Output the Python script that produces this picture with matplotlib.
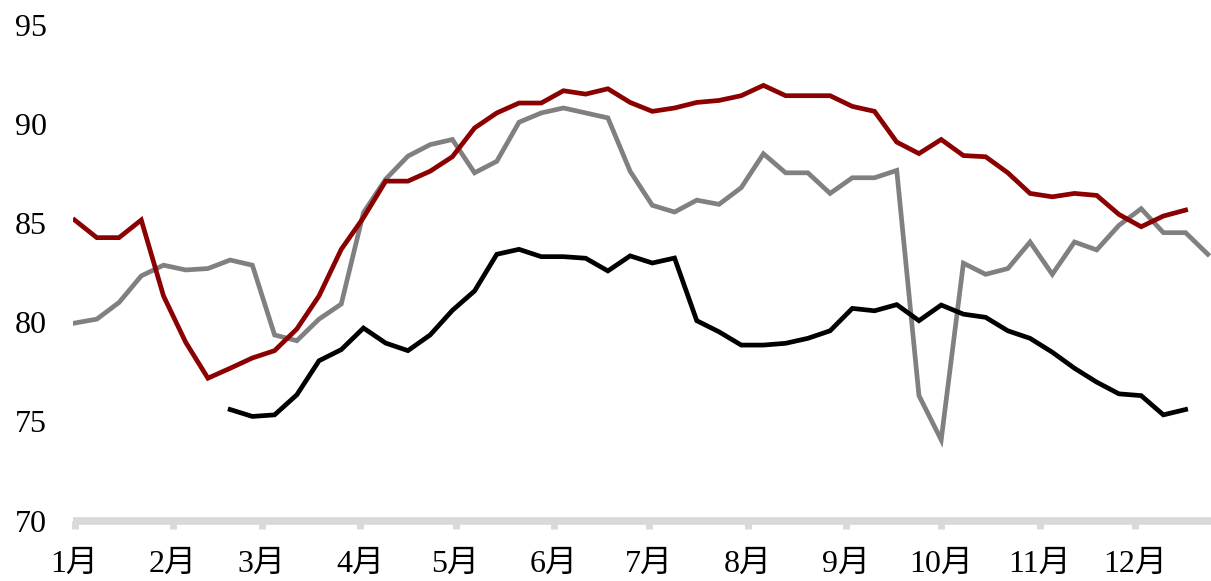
import numpy as np
import pandas as pd
import matplotlib
matplotlib.use("Agg")
import matplotlib.pyplot as plt

plt.rcParams['font.family'] = ['Liberation Serif', 'Noto Sans CJK SC', 'DejaVu Sans']

# 周度数据（每7天一个点）
semanas = pd.date_range('2021-01-01', periods=52, freq='7D')
meses = pd.date_range('2021-01-01', periods=12, freq='MS')
etiquetas_mes = ['1月', '2月', '3月', '4月', '5月', '6月',
                 '7月', '8月', '9月', '10月', '11月', '12月']

serie_gris = [79.96, 80.16, 81.00, 82.34, 82.88, 82.64, 82.71, 83.14, 82.88, 79.36,
              79.07, 80.16, 80.92, 85.53, 87.22, 88.38, 88.96, 89.22, 87.54, 88.12,
              90.09, 90.56, 90.81, 90.56, 90.31, 87.62, 85.90, 85.56, 86.16, 85.95,
              86.79, 88.50, 87.54, 87.54, 86.50, 87.29, 87.29, 87.66, 76.30, 74.07,
              82.98, 82.42, 82.71, 84.05, 82.42, 84.05, 83.65, 84.89, 85.73, 84.52,
              84.52, 83.43]

serie_negra = [None, None, None, None, None, None, None, 75.60, 75.25, 75.33,
               76.34, 78.06, 78.62, 79.71, 78.95, 78.57, 79.36, 80.60, 81.58, 83.43,
               83.68, 83.31, 83.31, 83.23, 82.59, 83.35, 82.99, 83.24, 80.08, 79.52,
               78.85, 78.85, 78.94, 79.19, 79.57, 80.70, 80.58, 80.89, 80.08, 80.87,
               80.41, 80.25, 79.57, 79.19, 78.49, 77.68, 76.98, 76.39, 76.30, 75.33,
               75.60, None]

serie_roja = [85.16, 84.27, 84.27, 85.16, 81.33, 78.99, 77.18, 77.68, 78.20, 78.57,
              79.66, 81.33, 83.68, 85.28, 87.12, 87.12, 87.62, 88.35, 89.80, 90.56,
              91.06, 91.06, 91.68, 91.51, 91.78, 91.09, 90.64, 90.81, 91.09, 91.19,
              91.43, 91.95, 91.43, 91.43, 91.43, 90.89, 90.64, 89.09, 88.51, 89.22,
              88.41, 88.35, 87.54, 86.50, 86.33, 86.50, 86.40, 85.44, 84.82, 85.36,
              85.66, None]

dias = (semanas - semanas[0]).days.values
dias_mes = (meses - semanas[0]).days.values

def a_array(v):
    return np.array([np.nan if x is None else x for x in v], dtype=float)

fig = plt.figure(figsize=(12.11, 5.81), dpi=100)
ax = fig.add_axes([0.0603, 0.1041, 0.9397, 0.853])

ax.plot(dias, a_array(serie_gris), color='#808080', linewidth=3.4, solid_joinstyle='miter')
ax.plot(dias, a_array(serie_negra), color='#000000', linewidth=3.4, solid_joinstyle='miter')
ax.plot(dias, a_array(serie_roja), color='#8B0000', linewidth=3.4, solid_joinstyle='miter')

ax.set_xlim(-0.5, 358)
ax.set_ylim(70, 95)
ax.set_yticks([70, 75, 80, 85, 90, 95])
ax.set_xticks(dias_mes)
ax.set_xticklabels(etiquetas_mes)

for lado in ['top', 'right', 'left']:
    ax.spines[lado].set_visible(False)
ax.spines['bottom'].set_color('#d9d9d9')
ax.spines['bottom'].set_linewidth(5.5)
ax.spines['bottom'].set_capstyle('butt')

ax.tick_params(axis='x', direction='out', length=6, width=5, color='#d9d9d9',
               labelsize=23, pad=15)
ax.tick_params(axis='y', length=0, labelsize=23, pad=19)

fig.savefig('out.png', dpi=100)
